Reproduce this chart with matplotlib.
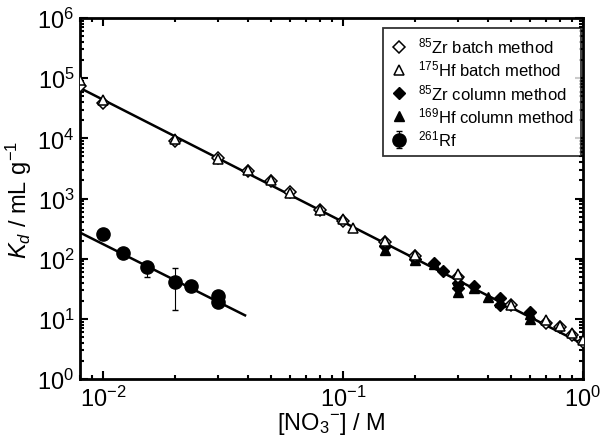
import numpy as np
import matplotlib
matplotlib.use("Agg")
import matplotlib.pyplot as plt
from matplotlib.ticker import FixedLocator, NullFormatter

# ---- data ----
zr_batch_x = [0.008, 0.01, 0.02, 0.03, 0.04, 0.05, 0.06, 0.08, 0.1, 0.15, 0.2, 0.3, 0.5, 0.7, 0.8, 0.9, 1.0]
zr_batch_y = [74000, 38000, 9000, 4700, 2900, 1950, 1300, 640, 430, 190, 110, 50, 17, 8.5, 7.2, 5.3, 4.1]

hf_batch_x = [0.008, 0.01, 0.02, 0.03, 0.04, 0.05, 0.06, 0.08, 0.1, 0.11, 0.15, 0.2, 0.3, 0.5, 0.7, 0.8, 0.9, 1.0]
hf_batch_y = [95000, 43000, 9800, 4500, 3000, 2000, 1250, 650, 450, 320, 200, 115, 55, 17, 9.5, 7.5, 5.8, 4.5]

zr_col_x = [0.15, 0.2, 0.24, 0.26, 0.3, 0.3, 0.35, 0.45, 0.45, 0.6]
zr_col_y = [160, 100, 85, 62, 40, 32, 35, 22, 17, 13]

hf_col_x = [0.15, 0.2, 0.24, 0.3, 0.3, 0.35, 0.4, 0.45, 0.6, 0.6]
hf_col_y = [140, 95, 80, 28, 45, 33, 23, 19, 10, 12]

rf_x = [0.01, 0.0121, 0.0152, 0.02, 0.0233, 0.03, 0.03]
rf_y = [260, 126, 74, 41, 35, 24, 19]
rf_err_lo = [0, 0, 24, 27, 0, 0, 0]
rf_err_hi = [0, 0, 15, 30, 0, 0, 0]

# fitted lines: log10(Kd) = a + b*log10(x)
zrhf_fit = (0.58, -2.03)
zrhf_range = (0.008, 1.0)
rf_fit = (-1.76, -2.0)
rf_range = (0.008, 0.039)

x_major = [0.01, 0.1, 1.0]
y_major = [1, 10, 100, 1e3, 1e4, 1e5, 1e6]

# ---- style ----
plt.rcParams['font.family'] = ['Liberation Sans', 'DejaVu Sans']
plt.rcParams['mathtext.fontset'] = 'custom'
plt.rcParams['mathtext.rm'] = 'Liberation Sans'
plt.rcParams['mathtext.it'] = 'Liberation Sans:italic'
plt.rcParams['mathtext.bf'] = 'Liberation Sans:bold'

fig = plt.figure(figsize=(6.03, 4.39), dpi=100)
ax = fig.add_axes([80/603, 1-380/439, 503/603, 361/439])

def fit_line(fit, rng):
    xs = np.logspace(np.log10(rng[0]), np.log10(rng[1]), 50)
    return xs, 10**(fit[0] + fit[1]*np.log10(xs))

lx, ly = fit_line(zrhf_fit, zrhf_range)
ax.plot(lx, ly, color='black', lw=1.8, zorder=2)
lx, ly = fit_line(rf_fit, rf_range)
ax.plot(lx, ly, color='black', lw=1.8, zorder=2)

ms = 7.5
ax.plot(zr_col_x, zr_col_y, 'D', color='black', ms=ms-1, ls='none', label=r'$^{85}$Zr column method', zorder=3)
ax.plot(hf_col_x, hf_col_y, '^', color='black', ms=ms, ls='none', label=r'$^{169}$Hf column method', zorder=3)
ax.plot(zr_batch_x, zr_batch_y, 'D', mfc='white', mec='black', mew=1.1, ms=ms-1, ls='none', label=r'$^{85}$Zr batch method', zorder=4)
ax.plot(hf_batch_x, hf_batch_y, '^', mfc='white', mec='black', mew=1.1, ms=ms, ls='none', label=r'$^{175}$Hf batch method', zorder=4)
ax.errorbar(rf_x, rf_y, yerr=[rf_err_lo, rf_err_hi], fmt='o', color='black', ms=9.5,
            ecolor='black', elinewidth=0.8, capsize=2, label=r'$^{261}$Rf', zorder=5)

ax.set_xscale('log')
ax.set_yscale('log')
ax.set_xlim(0.008, 1.0)
ax.set_ylim(1, 1e6)

for s in ax.spines.values():
    s.set_linewidth(2)

x_minor = [m * d for d in [0.001, 0.01, 0.1] for m in range(2, 10) if 0.008 <= m * d < 1.0]
y_minor = [m * d for d in [1, 10, 100, 1e3, 1e4, 1e5] for m in range(2, 10)]
ax.xaxis.set_major_locator(FixedLocator(x_major))
ax.yaxis.set_major_locator(FixedLocator(y_major))
ax.xaxis.set_minor_locator(FixedLocator(x_minor))
ax.yaxis.set_minor_locator(FixedLocator(y_minor))
ax.xaxis.set_minor_formatter(NullFormatter())
ax.yaxis.set_minor_formatter(NullFormatter())
ax.tick_params(which='both', direction='in', top=True, right=True, labelsize=17, width=1.5)
ax.tick_params(which='major', length=6)
ax.tick_params(which='minor', length=3, labelbottom=False, labelleft=False)
ax.tick_params(axis='x', pad=5)
ax.tick_params(axis='y', pad=4)

ax.set_xlabel(r'[NO$_3$$^{-}$] / M', fontsize=17, labelpad=-1)
ax.set_ylabel(r'$K_d$ / mL g$^{-1}$', fontsize=17, labelpad=2)

handles, labels = ax.get_legend_handles_labels()
order = [2, 3, 0, 1, 4]
leg = ax.legend([handles[i] for i in order], [labels[i] for i in order],
                loc='upper right', bbox_to_anchor=(0.996, 0.972), borderaxespad=0,
                fontsize=12, frameon=True, fancybox=False, edgecolor='black', handlelength=1.0,
                handletextpad=0.6, borderpad=0.45, labelspacing=0.2, numpoints=1)
leg.get_frame().set_linewidth(1.3)

fig.savefig('out.png', dpi=100)
